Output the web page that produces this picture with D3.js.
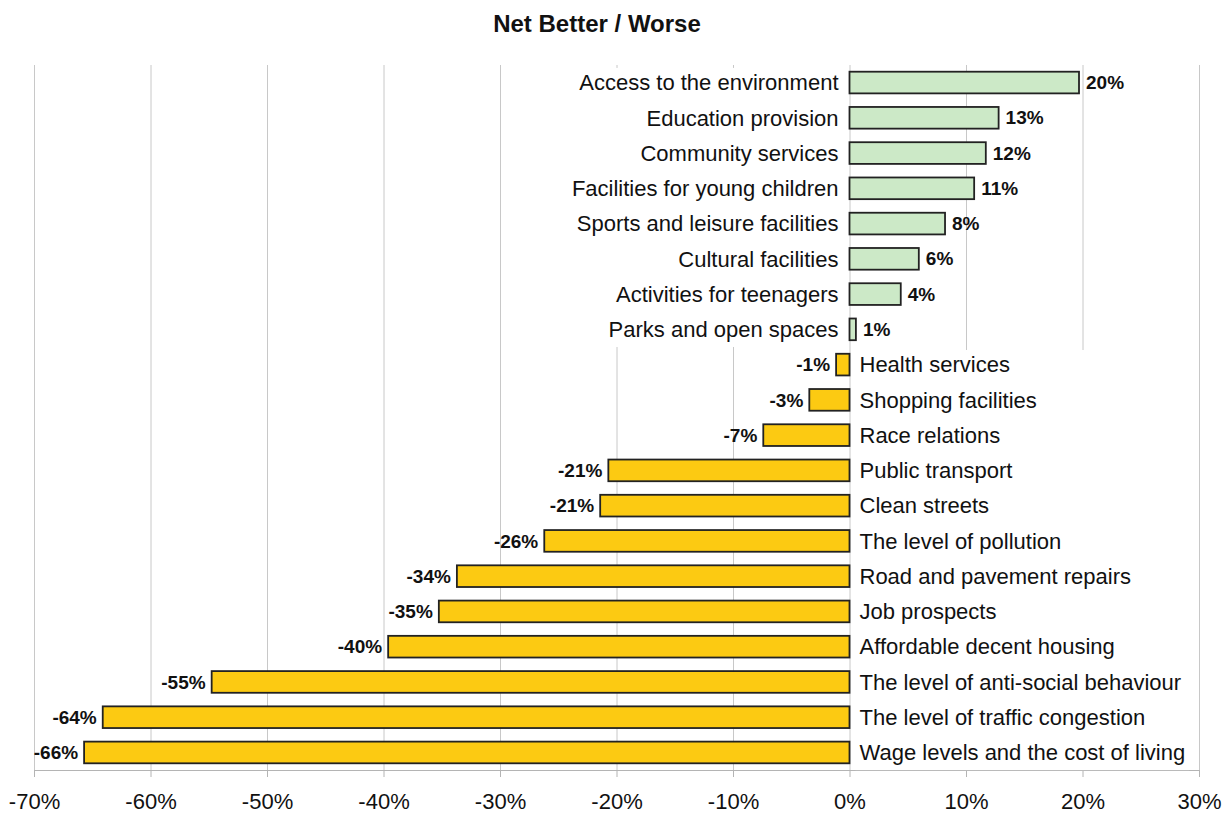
<!DOCTYPE html>
<html><head><meta charset="utf-8">
<script src="https://cdn.jsdelivr.net/npm/d3@7"></script>
<style>
html,body{margin:0;padding:0;background:#fff;}
svg{display:block;font-family:"Liberation Sans",Arial,sans-serif;}
</style></head>
<body>
<svg id="chart" width="1231" height="817"></svg>
<script>
const categories = [
  "Access to the environment","Education provision","Community services",
  "Facilities for young children","Sports and leisure facilities","Cultural facilities",
  "Activities for teenagers","Parks and open spaces","Health services",
  "Shopping facilities","Race relations","Public transport","Clean streets",
  "The level of pollution","Road and pavement repairs","Job prospects",
  "Affordable decent housing","The level of anti-social behaviour",
  "The level of traffic congestion","Wage levels and the cost of living"
];
const values = [19.7,12.8,11.7,10.7,8.2,5.95,4.4,0.55,-1.15,-3.45,-7.4,-20.7,-21.4,-26.2,-33.7,-35.25,-39.6,-54.75,-64.1,-65.7];
const tickValues = [-70,-60,-50,-40,-30,-20,-10,0,10,20,30];
const title = "Net Better / Worse";

const svg = d3.select("#chart");
const plotTop = 65, plotBottom = 770;
const x = d3.scaleLinear().domain([-70,30]).range([34,1199]);
const y = d3.scaleBand().domain(categories).range([plotTop,plotBottom]).paddingInner(0.385).paddingOuter(0.19);
const fmt = v => Math.round(v) + "%";

// gridlines
svg.append("g").selectAll("line").data(tickValues).join("line")
  .attr("x1", d => x(d)+0.5).attr("x2", d => x(d)+0.5)
  .attr("y1", plotTop).attr("y2", plotBottom)
  .attr("stroke", "#c8c8c8").attr("stroke-width", 1);

// axis
const axis = svg.append("g").attr("transform", `translate(0,${plotBottom})`)
  .call(d3.axisBottom(x).tickValues(tickValues).tickFormat(d => d + "%").tickSize(7).tickPadding(16));
axis.select(".domain").attr("stroke", "#b4b4b4");
axis.selectAll(".tick line").attr("stroke", "#b4b4b4");
axis.selectAll(".tick text").attr("font-size", 22).attr("fill", "#111")
  .attr("font-family", '"Liberation Sans",Arial,sans-serif');

// label groups (with white background boxes hiding gridlines)
const bgL = svg.append("rect").attr("fill", "#fff");
const bgR = svg.append("rect").attr("fill", "#fff");
const idx = d3.range(categories.length);
const posIdx = idx.filter(i => values[i] >= 0), negIdx = idx.filter(i => values[i] < 0);

const catL = svg.append("g").selectAll("text").data(posIdx).join("text")
  .attr("x", x(0) - 11).attr("y", i => y(categories[i]) + y.bandwidth()/2)
  .attr("dy", "0.35em").attr("text-anchor", "end").attr("font-size", 22).attr("fill", "#111")
  .text(i => categories[i]);
const catR = svg.append("g").selectAll("text").data(negIdx).join("text")
  .attr("x", x(0) + 10).attr("y", i => y(categories[i]) + y.bandwidth()/2)
  .attr("dy", "0.35em").attr("text-anchor", "start").attr("font-size", 22).attr("fill", "#111")
  .text(i => categories[i]);

function boxFor(sel, rect, idxs) {
  let x0 = Infinity, x1 = -Infinity;
  sel.each(function(){ const b = this.getBBox(); x0 = Math.min(x0, b.x); x1 = Math.max(x1, b.x + b.width); });
  const step = y.step();
  const yTop = y(categories[idxs[0]]) - (step - y.bandwidth())/2;
  const yBot = y(categories[idxs[idxs.length-1]]) + y.bandwidth() + (step - y.bandwidth())/2;
  rect.attr("x", x0 - 4).attr("width", x1 - x0 + 8).attr("y", yTop + 3).attr("height", yBot - yTop - 3);
}
boxFor(catL, bgL, posIdx);
boxFor(catR, bgR, negIdx);

// bars
svg.append("g").selectAll("rect").data(idx).join("rect")
  .attr("x", i => x(Math.min(0, values[i])))
  .attr("width", i => Math.abs(x(values[i]) - x(0)))
  .attr("y", i => y(categories[i]))
  .attr("height", y.bandwidth())
  .attr("fill", i => values[i] >= 0 ? "#cce9c7" : "#fcca12")
  .attr("stroke", "#222").attr("stroke-width", 1.8);

// value labels
svg.append("g").selectAll("text").data(idx).join("text")
  .attr("x", i => values[i] >= 0 ? x(values[i]) + 7 : x(values[i]) - 6)
  .attr("y", i => y(categories[i]) + y.bandwidth()/2)
  .attr("dy", "0.35em")
  .attr("text-anchor", i => values[i] >= 0 ? "start" : "end")
  .attr("font-size", 19).attr("font-weight", "bold").attr("fill", "#111")
  .text(i => fmt(values[i]));

// title
svg.append("text").attr("x", 597).attr("y", 32).attr("text-anchor", "middle")
  .attr("font-size", 24).attr("font-weight", "bold").attr("fill", "#111").text(title);
</script>
</body></html>
